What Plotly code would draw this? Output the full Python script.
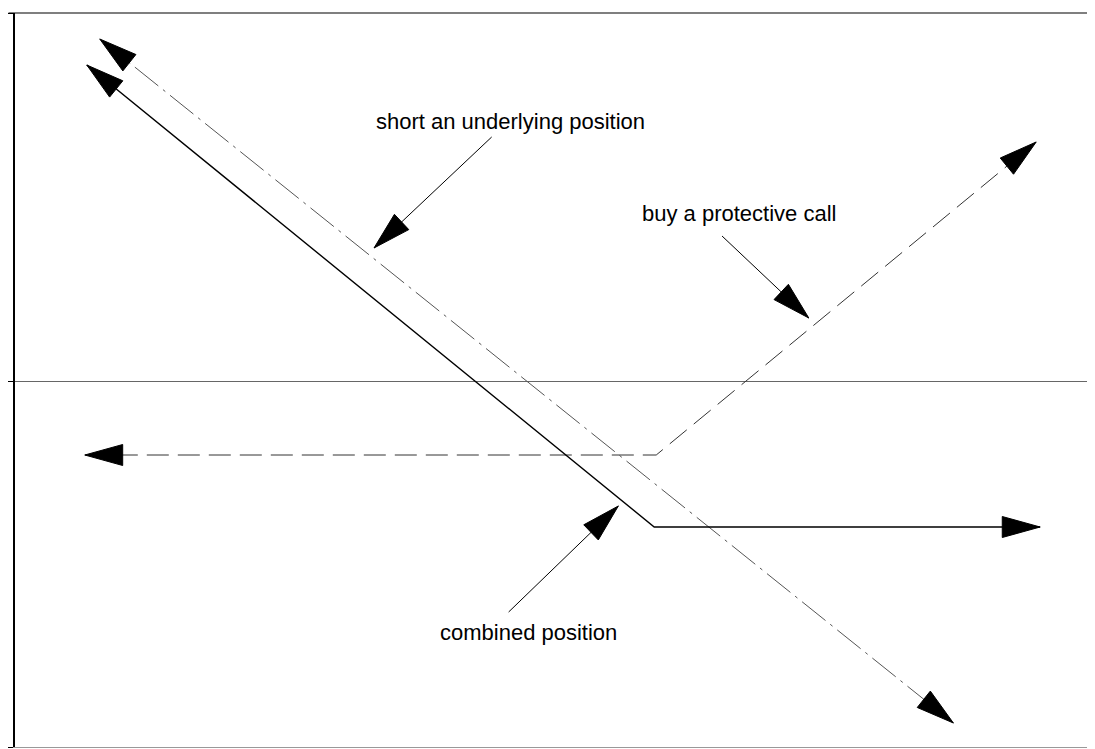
import math
import plotly.graph_objects as go

# ---- data (price on x, payoff on y) ----
short_price = [97, 953]
short_payoff = [342, -342]

call_price = [82, 655, 1036]
call_payoff = [-74, -74, 239]

combined_price = [84, 653, 1040]
combined_payoff = [316, -146, -146]

labels = ["short an underlying position", "buy a protective call", "combined position"]
label_x = [509, 738, 527]
label_y = [260, 168, -251]
pointer_tail_x = [490, 721, 507]
pointer_tail_y = [244, 145, -231]
pointer_tip_x = [372, 808, 617]
pointer_tip_y = [133, 63, -125]

# ---- styling ----
HEAD_LEN = 38
HEAD_W = 21
FONT = "Liberation Sans, Arial, Helvetica, sans-serif"

fig = go.Figure()


def add_head(tip_x, tip_y, tail_x, tail_y):
    dx, dy = tip_x - tail_x, tip_y - tail_y
    d = math.hypot(dx, dy)
    ux, uy = dx / d, dy / d
    bx, by = tip_x - HEAD_LEN * ux, tip_y - HEAD_LEN * uy
    nx, ny = -uy, ux
    xs = [tip_x, bx + HEAD_W / 2 * nx, bx - HEAD_W / 2 * nx, tip_x]
    ys = [tip_y, by + HEAD_W / 2 * ny, by - HEAD_W / 2 * ny, tip_y]
    fig.add_trace(go.Scatter(x=xs, y=ys, mode="lines", fill="toself",
                             fillcolor="black", line=dict(color="black", width=1),
                             hoverinfo="skip", showlegend=False))


def add_line(xs, ys, color, width, dash):
    fig.add_trace(go.Scatter(x=xs, y=ys, mode="lines",
                             line=dict(color=color, width=width, dash=dash),
                             hoverinfo="skip", showlegend=False))
    add_head(xs[0], ys[0], xs[1], ys[1])
    add_head(xs[-1], ys[-1], xs[-2], ys[-2])


add_line(short_price, short_payoff, "#555555", 1, "30px,6px,3px,6px")
add_line(call_price, call_payoff, "#333333", 1, "22px,9px")
add_line(combined_price, combined_payoff, "black", 1.4, "solid")

for i, t in enumerate(labels):
    fig.add_trace(go.Scatter(x=[pointer_tail_x[i], pointer_tip_x[i]],
                             y=[pointer_tail_y[i], pointer_tip_y[i]], mode="lines",
                             line=dict(color="black", width=1),
                             hoverinfo="skip", showlegend=False))
    add_head(pointer_tip_x[i], pointer_tip_y[i], pointer_tail_x[i], pointer_tail_y[i])
    fig.add_annotation(x=label_x[i], y=label_y[i], text=t, showarrow=False,
                       xanchor="center", yanchor="middle",
                       font=dict(family=FONT, size=22, color="black"))

# top frame line
fig.add_shape(type="line", xref="paper", yref="paper", x0=-0.006, x1=1, y0=1, y1=1,
              line=dict(color="black", width=1.2))

fig.update_layout(
    width=1087, height=741,
    margin=dict(l=4, r=0, t=5, b=2),
    paper_bgcolor="white", plot_bgcolor="white",
    showlegend=False,
    xaxis=dict(range=[12, 1095], showgrid=False, zeroline=False,
               showline=True, linecolor="#999999", linewidth=1,
               showticklabels=False, ticks=""),
    yaxis=dict(range=[-366, 368], showgrid=False,
               zeroline=True, zerolinecolor="#666666", zerolinewidth=1,
               showline=True, linecolor="black", linewidth=1.5,
               tickvals=[-366, 0, 368], ticks="outside", ticklen=7,
               tickcolor="black", showticklabels=False),
)

fig.write_html("out.html")
